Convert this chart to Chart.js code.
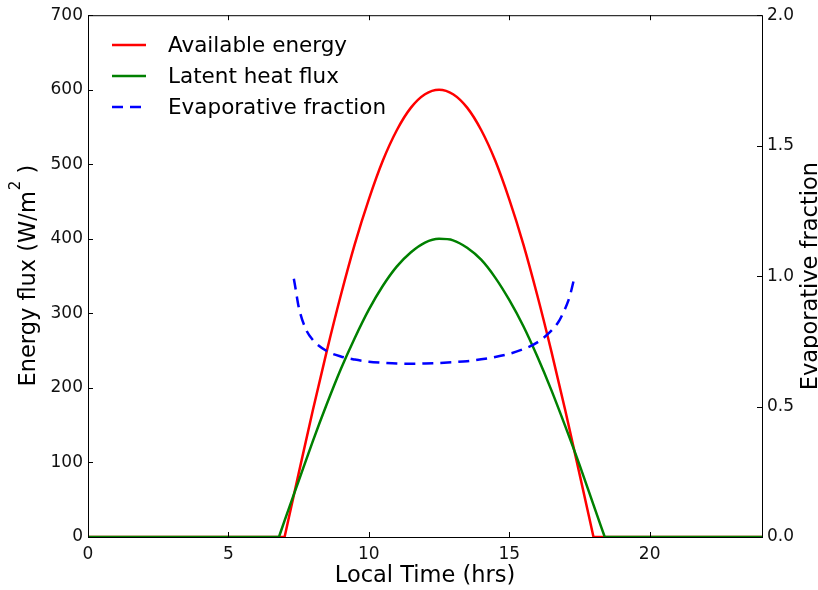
<!DOCTYPE html>
<html><head><meta charset="utf-8">
<script src="https://cdn.jsdelivr.net/npm/chart.js@4.4.1/dist/chart.umd.min.js"></script>
<style>html,body{margin:0;padding:0;background:#fff;}#wrap{width:818px;height:590px;}</style>
</head><body><div id="wrap"><canvas id="c" width="818" height="590"></canvas></div>
<script>
// ---- data ----
const xTickValues = [0, 5, 10, 15, 20];
const fluxTickValues = [0, 100, 200, 300, 400, 500, 600, 700];
const efTickValues = [0, 0.5, 1.0, 1.5, 2.0];

const seriesLabels = ['Available energy', 'Latent heat flux', 'Evaporative fraction'];

const aeTime  = [7.0, 7.5, 8.0, 8.5, 9.0, 9.5, 10.0, 10.5, 11.0, 11.5, 12.0, 12.5, 13.0, 13.5, 14.0, 14.5, 15.0, 15.5, 16.0, 16.5, 17.0, 17.5, 18.0];
const aeValue = [0, 85, 169, 249, 324, 393, 453, 505, 546, 576, 594, 600, 594, 576, 546, 505, 453, 393, 324, 249, 169, 85, 0];

const leTime  = [6.8, 7.0, 7.5, 8.0, 8.5, 9.0, 9.5, 10.0, 10.5, 11.0, 11.5, 12.0, 12.5, 13.0, 13.5, 14.0, 14.5, 15.0, 15.5, 16.0, 16.5, 17.0, 17.5, 18.0, 18.4];
const leValue = [0, 22, 75, 128, 178, 225, 267, 305, 337, 363, 382, 395, 400, 398, 388, 372, 348, 318, 283, 242, 197, 148, 97, 43, 0];

const efTime  = [7.33, 7.4, 7.5, 7.75, 8.0, 8.5, 9.0, 9.5, 10.0, 10.5, 11.0, 11.5, 12.0, 12.5, 13.0, 13.5, 14.0, 14.5, 15.0, 15.5, 16.0, 16.5, 16.75, 17.0, 17.1, 17.2, 17.3];
const efValue = [0.99, 0.946, 0.883, 0.798, 0.756, 0.713, 0.692, 0.680, 0.672, 0.668, 0.665, 0.664, 0.665, 0.667, 0.670, 0.674, 0.681, 0.690, 0.702, 0.720, 0.746, 0.791, 0.824, 0.878, 0.905, 0.941, 0.986];

const dayStart = 0, dayEnd = 24;

// ---- build datasets ----
function dayCurve(times, values) {
  const pts = [];
  const t0 = times[0], t1 = times[times.length - 1];
  pts.push({x: dayStart, y: 0}, {x: t0, y: 0}, {x: t0, y: null});
  times.forEach((t, i) => pts.push({x: t, y: values[i]}));
  pts.push({x: t1, y: null}, {x: t1, y: 0}, {x: dayEnd, y: 0});
  return pts;
}
const FONT = "'DejaVu Sans', sans-serif";
const colors = ['#ff0000', '#008000', '#0000ff'];
const efDash = [11, 7];

const data = {
  datasets: [
    {label: seriesLabels[0], data: dayCurve(aeTime, aeValue), borderColor: colors[0], yAxisID: 'y', order: 3},
    {label: seriesLabels[1], data: dayCurve(leTime, leValue), borderColor: colors[1], yAxisID: 'y', order: 2},
    {label: seriesLabels[2], data: efTime.map((t, i) => ({x: t, y: efValue[i]})), borderColor: colors[2], borderDash: efDash, yAxisID: 'y2', order: 1}
  ].map(d => Object.assign({borderWidth: 2.5, pointRadius: 0, fill: false, cubicInterpolationMode: 'monotone', spanGaps: false, clip: 0}, d))
};

const tickFont = {family: FONT, size: 17};
const decor = {
  id: 'decor',
  afterDatasetsDraw(chart) {
    const {ctx, chartArea: a, scales} = chart;
    ctx.save();
    ctx.strokeStyle = '#000';
    ctx.lineWidth = 1;
    ctx.strokeRect(a.left + 0.5, a.top + 0.5, a.right - a.left, a.bottom - a.top);
    ctx.beginPath();
    const tl = 5;
    xTickValues.forEach(v => {
      const px = Math.round(scales.x.getPixelForValue(v)) + 0.5;
      ctx.moveTo(px, a.bottom); ctx.lineTo(px, a.bottom - tl);
      ctx.moveTo(px, a.top); ctx.lineTo(px, a.top + tl);
    });
    fluxTickValues.forEach(v => {
      const py = Math.round(scales.y.getPixelForValue(v)) + 0.5;
      ctx.moveTo(a.left, py); ctx.lineTo(a.left + tl, py);
    });
    efTickValues.forEach(v => {
      const py = Math.round(scales.y2.getPixelForValue(v)) + 0.5;
      ctx.moveTo(a.right, py); ctx.lineTo(a.right - tl, py);
    });
    ctx.stroke();

    // legend
    const lf = '21.5px ' + FONT;
    const tf = '22.5px ' + FONT;
    chart.data.datasets.forEach((ds, i) => {
      const y = 45 + i * 31;
      ctx.beginPath();
      ctx.strokeStyle = ds.borderColor;
      ctx.lineWidth = ds.borderWidth;
      ctx.setLineDash(ds.borderDash || []);
      ctx.moveTo(112, y); ctx.lineTo(146, y);
      ctx.stroke();
      ctx.setLineDash([]);
      ctx.fillStyle = '#000';
      ctx.font = lf;
      ctx.textBaseline = 'middle';
      ctx.textAlign = 'left';
      ctx.fillText(ds.label, 168, y + 1);
    });

    // axis titles
    ctx.fillStyle = '#000';
    ctx.font = tf;
    ctx.textAlign = 'center';
    ctx.textBaseline = 'alphabetic';
    ctx.fillText('Local Time (hrs)', (a.left + a.right) / 2, 582);

    // right title (reads bottom to top)
    ctx.save();
    ctx.translate(817, (a.top + a.bottom) / 2);
    ctx.rotate(-Math.PI / 2);
    ctx.fillText('Evaporative fraction', 0, 0);
    ctx.restore();

    // left title with superscript
    ctx.save();
    ctx.translate(35, (a.top + a.bottom) / 2);
    ctx.rotate(-Math.PI / 2);
    ctx.textAlign = 'left';
    const p1 = 'Energy flux (W/m', p2 = '2', p3 = ' )';
    const supFont = '15px ' + FONT;
    ctx.font = tf; const w1 = ctx.measureText(p1).width, w3 = ctx.measureText(p3).width;
    ctx.font = supFont; const w2 = ctx.measureText(p2).width;
    let x0 = -(w1 + w2 + w3) / 2;
    ctx.font = tf; ctx.fillText(p1, x0, 0);
    ctx.font = supFont; ctx.fillText(p2, x0 + w1 + 1, -15);
    ctx.font = tf; ctx.fillText(p3, x0 + w1 + w2 + 1, 0);
    ctx.restore();
    ctx.restore();
  }
};

new Chart(document.getElementById('c'), {
  type: 'line',
  data,
  options: {
    responsive: false,
    animation: false,
    devicePixelRatio: 1,
    layout: {padding: {top: 15, left: 0, right: 0, bottom: 0}},
    plugins: {legend: {display: false}, tooltip: {enabled: false}},
    scales: {
      x: {
        type: 'linear', min: 0, max: 24,
        afterBuildTicks: s => { s.ticks = xTickValues.map(v => ({value: v})); },
        afterFit: s => { s.height = 53; },
        grid: {display: false, drawTicks: false}, border: {display: false},
        ticks: {font: tickFont, color: '#111', padding: 7, maxRotation: 0, autoSkip: false, callback: v => String(v)}
      },
      y: {
        type: 'linear', position: 'left', min: 0, max: 700,
        afterBuildTicks: s => { s.ticks = fluxTickValues.map(v => ({value: v})); },
        afterFit: s => { s.width = 88; },
        grid: {display: false, drawTicks: false}, border: {display: false},
        ticks: {font: tickFont, color: '#111', padding: 5, autoSkip: false, callback: v => String(v)}
      },
      y2: {
        type: 'linear', position: 'right', min: 0, max: 2,
        afterBuildTicks: s => { s.ticks = efTickValues.map(v => ({value: v})); },
        afterFit: s => { s.width = 56; },
        grid: {display: false, drawTicks: false}, border: {display: false},
        ticks: {font: tickFont, color: '#111', padding: 5, autoSkip: false, callback: v => Number(v).toFixed(1)}
      }
    }
  },
  plugins: [decor]
});
</script>
</body></html>
